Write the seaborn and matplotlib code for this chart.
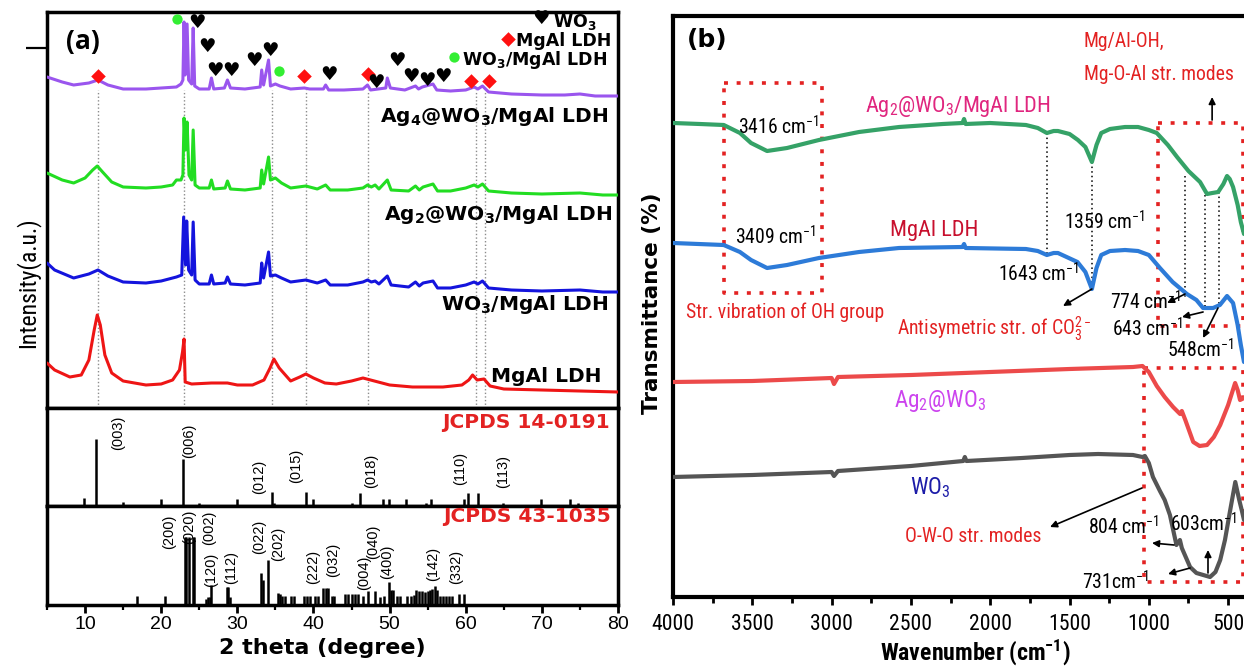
import matplotlib
matplotlib.use("Agg")
import matplotlib.pyplot as plt
import matplotlib.font_manager as fm
from matplotlib.ticker import MultipleLocator
import seaborn as sns
import pandas as pd

# ======================= DATA =======================
# ---- (a) XRD patterns: (2theta, intensity a.u.) ----
xrd_ag4_wo3_ldh = [(5.0,331),(7.0,326),(8.5,323),(10.5,325),(11.7,328),(13.0,323),(15.0,319),(18.0,319),
    (20.0,320),(22.0,321),(22.6,324),(22.85,328),(23.0,386),(23.15,333),(23.4,384),(23.6,328),(24.0,324),
    (24.2,380),(24.4,322),(25.0,319),(26.3,319),(26.6,330),(26.9,319),(28.3,320),(28.7,328),(29.1,320),
    (31.0,319),(33.0,321),(33.2,338),(33.45,323),(34.1,348),(34.35,322),(35.0,324),(35.6,322),(37.0,319),
    (38.8,320),(39.5,319),(41.3,319),(41.6,323),(42.0,318),(44.0,318),(46.5,319),(47.1,323),(47.5,318),
    (49.5,320),(49.7,330),(50.1,320),(52.0,318),(53.4,322),(53.8,319),(54.3,321),(55.7,324),(56.2,318),
    (58.0,317),(60.0,318),(61.1,321),(61.6,319),(62.2,322),(63.0,316),(66.0,314),(70.0,313),(73.0,313),
    (75.0,314),(77.0,312),(80.0,312)]
xrd_ag2_wo3_ldh = [(5.0,235),(7.0,228),(8.5,225),(10.0,230),(11.0,238),(11.6,242),(12.3,236),(13.5,226),
    (15.0,221),(18.0,220),(20.0,221),(21.5,223),(22.0,228),(22.6,228),(22.85,233),(23.0,290),(23.2,258),
    (23.4,286),(23.65,233),(24.0,228),(24.2,278),(24.45,223),(25.0,220),(26.3,220),(26.6,228),(26.9,219),
    (28.4,220),(28.7,227),(29.1,219),(31.0,218),(33.0,220),(33.2,238),(33.45,224),(34.1,251),(34.35,228),
    (35.0,230),(35.8,225),(37.0,220),(39.0,222),(40.5,219),(41.6,223),(42.2,218),(44.5,218),(46.5,220),
    (47.1,223),(47.6,221),(48.1,223),(48.6,219),(49.7,228),(50.2,218),(52.5,217),(53.4,222),(53.9,218),
    (54.4,221),(55.7,224),(56.3,217),(58.0,217),(60.0,220),(61.1,223),(61.6,221),(62.2,224),(63.0,217),
    (66.0,215),(70.0,214),(75.0,215),(78.0,213),(80.0,213)]
xrd_wo3_ldh = [(5.0,145),(6.0,138),(8.5,130),(10.5,134),(11.7,138),(13.0,132),(15.0,126),(18.0,125),
    (20.0,127),(22.0,131),(22.7,133),(22.95,191),(23.2,143),(23.35,187),(23.6,138),(24.0,133),(24.2,186),
    (24.45,128),(25.0,124),(26.3,124),(26.6,133),(26.9,124),(28.4,125),(28.7,131),(29.1,124),(31.0,123),
    (33.0,125),(33.2,145),(33.45,130),(34.1,156),(34.35,132),(35.0,133),(35.8,130),(37.0,126),(39.0,128),
    (40.5,125),(41.6,128),(42.2,123),(44.5,123),(46.5,126),(47.1,128),(47.6,126),(48.1,127),(48.6,124),
    (49.7,132),(50.2,123),(52.5,121),(53.4,126),(53.9,122),(54.4,125),(55.7,127),(56.3,120),(58.0,120),
    (60.0,123),(61.1,126),(61.6,124),(62.2,127),(63.0,120),(66.0,118),(70.0,117),(75.0,118),(78.0,116),
    (80.0,116)]
xrd_mgal_ldh = [(5.0,45),(6.0,38),(8.0,31),(9.5,33),(10.5,48),(11.2,78),(11.6,93),(12.0,83),(12.6,53),
    (13.5,35),(15.0,27),(18.0,23),(20.0,24),(21.5,28),(22.4,38),(22.8,56),(23.0,69),(23.15,26),(24.0,24),
    (26.6,25),(28.7,25),(30.0,23),(32.0,23),(33.5,28),(34.3,40),(34.8,49),(35.5,40),(37.0,27),(38.2,31),
    (39.0,34),(40.0,30),(41.5,25),(43.0,24),(45.0,27),(46.5,30),(48.0,27),(50.0,23),(53.0,21),(57.0,21),
    (59.5,23),(60.4,28),(60.9,33),(61.5,28),(62.4,29),(63.2,22),(65.0,19),(70.0,18),(75.0,17),(80.0,16)]
xrd_names = ["Ag$_4$@WO$_3$/MgAl LDH", "Ag$_2$@WO$_3$/MgAl LDH", "WO$_3$/MgAl LDH", "MgAl LDH"]

ref_line_2theta = [11.7, 23.0, 34.6, 39.0, 47.2, 61.3, 62.5]
ldh_peak_2theta = [11.7, 38.8, 47.1, 60.7, 63.0]
wo3ldh_peak_2theta = [22.1, 35.5]
wo3_peak_2theta = [24.7, 26.0, 27.1, 29.2, 32.2, 34.3, 42.1, 48.2, 51.0, 52.8, 54.9, 57.0]

# ---- reference cards: (2theta, relative intensity) ----
jcpds_14_0191 = [(9.9,8),(11.5,67),(15.0,4),(20.0,7),(22.85,47),(24.9,3),(29.95,7),(34.6,14),(34.85,3),
    (39.0,14),(39.95,7),(45.0,3),(46.1,13),(49.1,7),(49.9,7),(52.1,7),(54.8,3),(55.5,7),(59.8,7),(60.3,13),
    (61.6,13),(64.9,3),(69.9,7),(73.7,7),(74.8,3)]
jcpds_14_0191_hkl = [("(003)",14.3),("(006)",23.7),("(012)",32.9),("(015)",37.7),("(018)",47.6),
    ("(110)",59.3),("(113)",64.9)]
jcpds_43_1035 = [(16.85,9),(20.55,9),(23.1,68),(23.3,68),(23.6,68),(24.2,68),(24.35,68),(25.9,6),(26.15,8),
    (26.4,8),(26.55,20),(28.6,18),(28.8,18),(29.1,8),(33.1,32),(33.35,25),(34.0,45),(35.35,12),(35.6,11),
    (35.9,9),(36.3,9),(37.0,9),(37.4,9),(38.8,9),(39.1,9),(39.5,9),(40.2,9),(40.6,9),(41.3,17),(41.6,17),
    (41.9,17),(42.4,9),(42.7,9),(44.2,11),(44.6,11),(45.0,11),(45.4,11),(45.9,11),(46.5,9),(47.2,14),
    (48.1,14),(48.7,8),(49.3,9),(49.9,23),(50.2,15),(50.5,15),(51.0,9),(51.4,9),(52.3,9),(52.8,9),(53.2,10),
    (53.5,15),(53.8,14),(54.2,14),(54.6,13),(55.0,14),(55.3,15),(55.6,16),(55.9,19),(56.2,15),(56.6,9),
    (57.0,9),(57.4,9),(57.8,9),(58.2,9),(59.1,11),(59.8,11)]
jcpds_43_1035_hkl = [("(200)",21.1),("(020)",23.7),("(002)",26.3),("(120)",26.5),("(112)",29.2),
    ("(022)",32.8),("(202)",35.3),("(222)",40.0),("(032)",42.6),("(004)",46.7),("(040)",47.8),
    ("(400)",49.7),("(142)",55.7),("(332)",58.8)]

# ---- (b) FTIR spectra: (wavenumber, transmittance a.u.) ----
ftir_ag2_wo3_ldh = [(4000,474),(3830,473),(3680,472),(3578,464),(3508,454),(3407,446),(3281,449),(3080,457),
    (2827,465),(2575,470),(2300,473),(2175,474),(2165,478),(2155,473),(2000,474),(1775,472),(1700,469),
    (1643,464),(1600,466),(1573,466),(1500,463),(1447,457),(1400,450),(1359,435),(1330,452),(1300,464),
    (1245,468),(1150,470),(1068,470),(1000,467),(950,464),(880,452),(822,440),(750,426),(677,415),
    (633,403),(600,404),(563,405),(530,413),(507,421),(490,418),(469,410),(440,392),(420,375),(400,363)]
ftir_mgal_ldh = [(4000,354),(3680,352),(3578,345),(3508,337),(3407,329),(3281,332),(3080,339),(2827,345),
    (2575,349),(2175,350),(2165,353),(2155,349),(1775,348),(1700,346),(1643,342),(1600,344),(1573,344),
    (1450,335),(1400,325),(1359,308),(1330,329),(1300,342),(1245,346),(1150,347),(1068,346),(1000,342),
    (930,329),(850,315),(760,303),(700,297),(658,289),(595,289),(552,292),(507,301),(469,294),(440,272),
    (420,252),(400,235)]
ftir_ag2_wo3 = [(4000,215),(3500,216),(3000,219),(2985,213),(2960,220),(2500,222),(2000,225),(1500,228),
    (1100,230),(1040,231),(1000,225),(950,211),(900,200),(847,190),(803,183),(792,186),(770,177),(720,155),
    (680,151),(633,152),(590,160),(550,172),(500,192),(456,214),(440,207),(425,197),(400,199)]
ftir_wo3 = [(4000,120),(3500,122),(3000,125),(2985,121),(2960,126),(2500,131),(2170,136),(2160,140),
    (2150,136),(1800,139),(1500,142),(1320,143),(1100,142),(1040,140),(1025,141),(1000,134),(974,120),
    (930,106),(900,97),(867,82),(826,52),(804,57),(792,49),(740,30),(700,24),(614,20),(580,25),(550,37),
    (520,57),(488,86),(455,115),(430,97),(413,86),(400,77)]
ftir_names = ["Ag$_2$@WO$_3$/MgAl LDH", "MgAl LDH", "Ag$_2$@WO$_3$", "WO$_3$"]
ftir_ticks = [500, 1000, 1500, 2000, 2500, 3000, 3500, 4000]

# ======================= STYLE =======================
sns.set_theme(style="ticks", rc={"axes.edgecolor": "black", "xtick.color": "black",
                                 "ytick.color": "black", "text.color": "black"})
plt.rcParams["font.family"] = ["DejaVu Sans"]
plt.rcParams["mathtext.default"] = "regular"

_names = {f.name for f in fm.fontManager.ttflist}
if "Liberation Sans Narrow" in _names:
    NARROW, NS = "Liberation Sans Narrow", 1.0
elif "Roboto Condensed" in _names:
    NARROW, NS = "Roboto Condensed", 0.95
else:
    NARROW, NS = "Liberation Sans", 0.83
ARIAL = "Liberation Sans" if "Liberation Sans" in _names else "DejaVu Sans"
OPEN = "Open Sans" if "Open Sans" in _names else "DejaVu Sans"

RED = "#e32222"
W, H = 1244, 666
fig = plt.figure(figsize=(W / 100, H / 100), dpi=100)


def rect(l, t, r, b):
    return [l / W, 1 - b / H, (r - l) / W, (b - t) / H]


ax1 = fig.add_axes(rect(47, 12, 618, 408))
ax2 = fig.add_axes(rect(47, 408, 618, 506))
ax3 = fig.add_axes(rect(47, 506, 618, 605))
axb = fig.add_axes(rect(673, 16, 1244, 597))

# ======================= PANEL (a) =======================
for ax in (ax1, ax2, ax3):
    ax.set_xlim(5, 80)
    for s in ax.spines.values():
        s.set_linewidth(2.5)
        s.set_color("black")
ax1.set_ylim(0, 396)
ax2.set_ylim(0, 98)
ax3.set_ylim(0, 99)

xrd_colors = ["#9a55ee", "#22dd22", "#1414dd", "#ee1515"]
for pts, col in zip([xrd_ag4_wo3_ldh, xrd_ag2_wo3_ldh, xrd_wo3_ldh, xrd_mgal_ldh], xrd_colors):
    df = pd.DataFrame(pts, columns=["tt", "I"])
    sns.lineplot(data=df, x="tt", y="I", ax=ax1, color=col, lw=2.2, sort=False,
                 estimator=None, legend=False, zorder=3)
ax1.vlines(ref_line_2theta, 0, 318, colors="#8c8c8c", linestyles=(0, (1, 1.6)), lw=1.0, zorder=1)

ldh_mark_y = [332, 332, 334, 327, 327]
wo3ldh_mark_y = [389, 337]
wo3_mark_y = [386, 362, 337, 337, 347, 358, 334, 325, 347, 332, 328, 331]
ax1.scatter(ldh_peak_2theta, ldh_mark_y, marker="D", s=55, color="#ff1010", lw=0, zorder=5)
ax1.scatter(wo3ldh_peak_2theta, wo3ldh_mark_y, marker="o", s=55, color="#33ee33", lw=0, zorder=5)
for x, y in zip(wo3_peak_2theta, wo3_mark_y):
    ax1.text(x, y, "\u2665", fontsize=14, ha="center", va="center", color="black", zorder=5)

# legend
ax1.text(69.9, 389, "\u2665", fontsize=14, ha="center", va="center", color="black")
ax1.text(71.5, 389, "WO$_3$", fontsize=12.5, fontweight="bold", ha="left", va="center_baseline")
ax1.scatter([65.5], [369], marker="D", s=55, color="#ff1010", lw=0)
ax1.text(66.6, 369, "MgAl LDH", fontsize=12.5, fontweight="bold", ha="left", va="center_baseline")
ax1.scatter([58.4], [351], marker="o", s=55, color="#33ee33", lw=0)
ax1.text(59.5, 351, "WO$_3$/MgAl LDH", fontsize=12.5, fontweight="bold", ha="left", va="center_baseline")

for name, (x, y) in zip(xrd_names, [(78.7, 295), (79.2, 196), (78.8, 106), (77.8, 34)]):
    ax1.text(x, y, name, fontsize=14.5, fontweight="bold", ha="right", va="center_baseline")
ax1.text(9.7, 366, "(a)", fontsize=19, fontweight="bold", family=OPEN, ha="center", va="center")

ax1.set_xticks([])
ax1.set_yticks([360])
ax1.tick_params(axis="y", length=15, width=1.6, direction="out", labelleft=False, left=True)
ax1.set_xlabel("")
ax1.set_ylabel("")

# reference card 14-0191
x, h = zip(*jcpds_14_0191)
ax2.vlines(x, 0, h, colors="black", lw=1.8)
for (lab, tt), y in zip(jcpds_14_0191_hkl, [73, 65, 29, 40, 35, 38, 34]):
    ax2.text(tt, y, lab, rotation=90, ha="center", va="center", fontsize=10.5, family=ARIAL)
ax2.text(78.9, 84, "JCPDS 14-0191", color=RED, fontsize=14.5, fontweight="bold", ha="right", va="center")
ax2.set_xticks([])
ax2.set_yticks([])

# reference card 43-1035
x, h = zip(*jcpds_43_1035)
ax3.vlines(x, 0, h, colors="black", lw=1.8)
for (lab, tt), y in zip(jcpds_43_1035_hkl, [73, 78, 77, 35, 37, 68, 61, 38, 45, 32, 63, 43, 41, 38]):
    ax3.text(tt, y, lab, rotation=90, ha="center", va="center", fontsize=10.5, family=ARIAL)
ax3.text(79.0, 88, "JCPDS 43-1035", color=RED, fontsize=14.5, fontweight="bold", ha="right", va="center")
ax3.set_yticks([])
ax3.set_xticks(range(10, 81, 10))
ax3.xaxis.set_minor_locator(MultipleLocator(5))
ax3.tick_params(axis="x", which="major", length=6, width=2, direction="out", pad=2, labelsize=14)
ax3.tick_params(axis="x", which="minor", length=3.5, width=1.6, direction="out")
for lab in ax3.get_xticklabels():
    lab.set_fontfamily(ARIAL)

fig.text(322 / W, 1 - 648 / H, "2 theta (degree)", ha="center", va="center", fontsize=16, fontweight="bold")
fig.text(28 / W, 1 - 283 / H, "Intensity(a.u.)", rotation=90, ha="center", va="center",
         fontsize=18 * NS, family=NARROW)

# ======================= PANEL (b) =======================
axb.set_xlim(4000, 400)
axb.set_ylim(0, 581)
ftir_colors = ["#35a267", "#2d7bd8", "#ec4a4a", "#555555"]
for pts, col in zip([ftir_ag2_wo3_ldh, ftir_mgal_ldh, ftir_ag2_wo3, ftir_wo3], ftir_colors):
    df = pd.DataFrame(pts, columns=["wn", "T"])
    sns.lineplot(data=df, x="wn", y="T", ax=axb, color=col, lw=3.0, sort=False,
                 estimator=None, legend=False, zorder=3)
axb.set_xlabel("")
axb.set_ylabel("")
axb.spines["right"].set_visible(False)
for s in ["left", "top", "bottom"]:
    axb.spines[s].set_linewidth(3)
    axb.spines[s].set_color("black")
axb.set_yticks([])
axb.set_xticks(ftir_ticks)
axb.xaxis.set_minor_locator(MultipleLocator(250))
axb.tick_params(axis="x", which="major", length=6, width=2, direction="out", pad=6, labelsize=16.5 * NS)
axb.tick_params(axis="x", which="minor", length=4, width=2, direction="out")
for lab in axb.get_xticklabels():
    lab.set_fontfamily(NARROW)


def dotted_box(x0, x1, y0, y1):
    axb.plot([x0, x1, x1, x0, x0], [y0, y0, y1, y1, y0], color=RED, lw=2.6,
             ls=(0, (1.1, 2.4)), zorder=2)


dotted_box(3680, 3060, 514, 304)
dotted_box(942, 408, 474, 271)
dotted_box(1030, 408, 229, 15)

for wn, y0, y1 in [(1643, 464, 342), (1359, 435, 308), (772, 421, 300), (647, 402, 287), (557, 405, 292)]:
    axb.plot([wn, wn], [y0, y1], color="black", lw=1.1, ls=(0, (1, 2)), zorder=2)

T = dict(family=NARROW, ha="left", va="center_baseline")
fs = 15 * NS
axb.text(3786, 557, "(b)", fontsize=18, fontweight="bold", ha="center", va="center")
axb.text(1409, 557, "Mg/Al-OH,", color=RED, fontsize=fs, **T)
axb.text(1409, 524, "Mg-O-Al str. modes", color=RED, fontsize=fs, **T)
axb.text(3590, 472, "3416 cm$^{-1}$", fontsize=fs, **T)
axb.text(2203, 494, ftir_names[0], color="#e0267f", fontsize=17 * NS, family=NARROW, ha="center",
         va="center_baseline")
axb.text(3609, 362, "3409 cm$^{-1}$", fontsize=fs, **T)
axb.text(2354, 369, ftir_names[1], color="#c8102e", fontsize=17 * NS, family=NARROW, ha="center",
         va="center_baseline")
axb.text(1951, 325, "1643 cm$^{-1}$", fontsize=fs, **T)
axb.text(1535, 377, "1359 cm$^{-1}$", fontsize=fs, **T)
axb.text(3918, 287, "Str. vibration of OH group", color=RED, fontsize=fs, **T)
axb.text(2588, 272, "Antisymetric str. of CO$_3^{2-}$", color=RED, fontsize=fs, **T)
axb.text(1245, 297, "774 cm$^{-1}$", fontsize=fs, **T)
axb.text(1232, 270, "643 cm$^{-1}$", fontsize=fs, **T)
axb.text(885, 249, "548cm$^{-1}$", fontsize=fs, **T)
axb.text(2317, 199, ftir_names[2], color="#cc44ee", fontsize=17.5 * NS, family=NARROW, ha="center",
         va="center_baseline")
axb.text(2380, 112, ftir_names[3], color="#1c1ca8", fontsize=17.5 * NS, family=NARROW, ha="center",
         va="center_baseline")
axb.text(2537, 62, "O-W-O str. modes", color=RED, fontsize=fs, **T)
axb.text(1383, 72, "804 cm$^{-1}$", fontsize=fs, **T)
axb.text(1421, 17, "731cm$^{-1}$", fontsize=fs, **T)
axb.text(866, 75, "603cm$^{-1}$", fontsize=fs, **T)

arrow = dict(arrowstyle="-|>", color="black", lw=1.2, mutation_scale=10, shrinkA=0, shrinkB=0)
for head, tail in [((601, 500), (601, 477)), ((1541, 291), (1359, 308)), ((885, 294), (772, 303)),
                   ((791, 280), (658, 285)), ((658, 259), (564, 289)), ((1623, 70), (1043, 109)),
                   ((980, 54), (841, 52)), ((879, 23), (740, 29)), ((627, 47), (627, 24))]:
    axb.annotate("", xy=head, xytext=tail, arrowprops=arrow, zorder=4)

fig.text(652 / W, 1 - 303 / H, "Transmittance (%)", rotation=90, ha="center", va="center",
         fontsize=15.5, fontweight="bold")
fig.text(975 / W, 1 - 652 / H, "Wavenumber (cm$^{-1}$)", ha="center", va="center",
         fontsize=18 * NS, fontweight="bold", family=NARROW)

fig.savefig("out.png", dpi=100)
